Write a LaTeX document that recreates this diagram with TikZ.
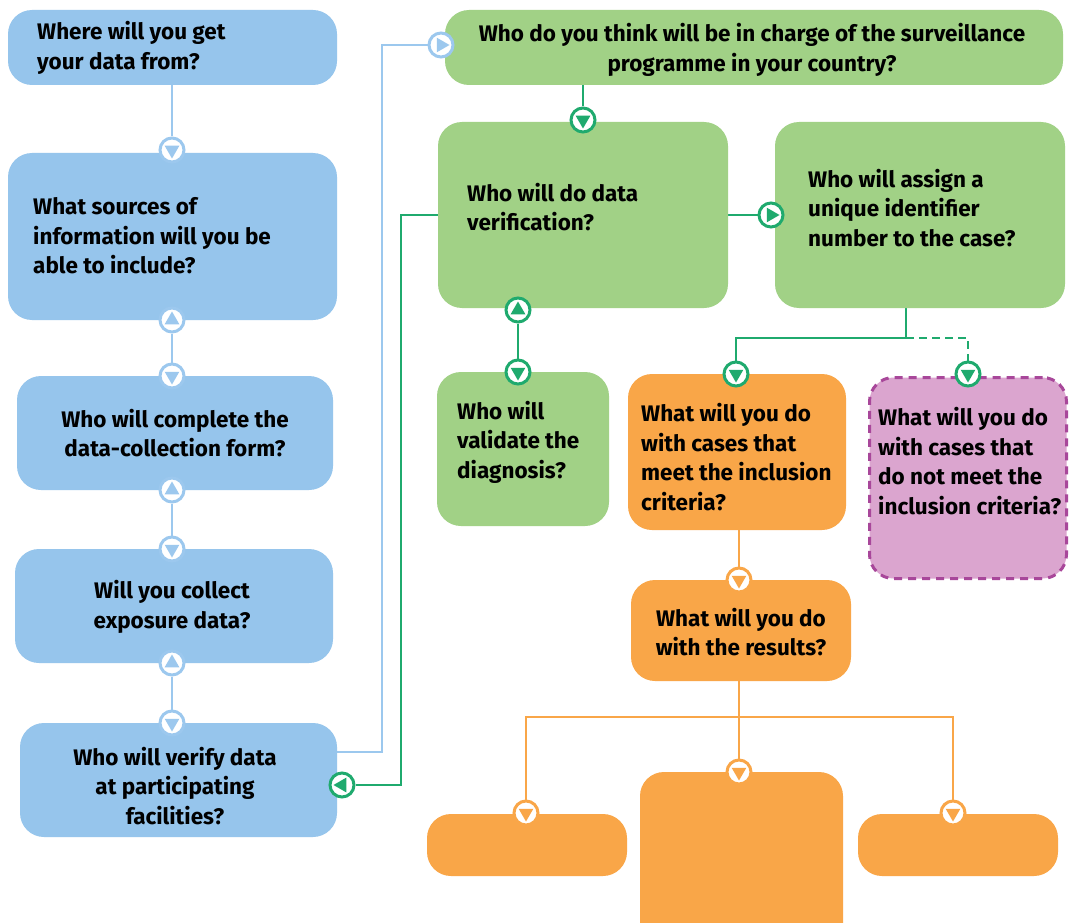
\documentclass[tikz,border=0pt]{standalone}
\usepackage{fontspec}
\setmainfont{Fira Sans}
\usetikzlibrary{shapes.geometric,calc}
\definecolor{bblue}{HTML}{96C5EC}
\definecolor{blin}{HTML}{9CC8EE}
\definecolor{bgreen}{HTML}{A1D186}
\definecolor{glin}{HTML}{1FAA6E}
\definecolor{borange}{HTML}{F9A648}
\definecolor{bpink}{HTML}{DBA5CF}
\definecolor{pline}{HTML}{A8479A}
\pgfdeclarelayer{bg}
\pgfsetlayers{bg,main}
\tikzset{
  bx/.style={rectangle, rounded corners=24pt, inner sep=0pt, draw=none},
  txt/.style={font=\bfseries\fontsize{22.5}{29.5}\selectfont, inner sep=0pt, text=black},
  mcirc/.style={circle, draw=#1, line width=3pt, fill=white, minimum size=24pt, inner sep=0pt},
  mtri/.style={regular polygon, regular polygon sides=3, fill=#1, minimum size=17pt, inner sep=0pt},
  bline/.style={draw=blin, line width=2.5pt},
  gline/.style={draw=glin, line width=2.5pt},
  oline/.style={draw=borange, line width=2.2pt},
}
\newcommand\mk[4]{\node[mcirc=#4] (#1) at (#2) {};\node[mtri=#4, rotate=#3] (#1t) at (#1) {};}
\begin{document}
\begin{tikzpicture}[x=1pt,y=-1pt]
\clip (0,0) rectangle (1071,923);
% boxes
\node[bx, fill=bblue, minimum width=329pt, minimum height=75pt] (b1) at (172.5,47.5) {};
\node[bx, fill=bblue, minimum width=329pt, minimum height=167pt] (b2) at (172.5,236.5) {};
\node[bx, fill=bblue, minimum width=316pt, minimum height=114pt] (b3) at (175,433) {};
\node[bx, fill=bblue, minimum width=318pt, minimum height=114pt] (b4) at (174,606) {};
\node[bx, fill=bblue, minimum width=317pt, minimum height=114pt] (b5) at (178.5,780) {};
\node[bx, fill=bgreen, minimum width=618pt, minimum height=75pt] (tg) at (754,47.5) {};
\node[bx, fill=bgreen, minimum width=290pt, minimum height=186pt] (g1) at (583,215) {};
\node[bx, fill=bgreen, minimum width=290pt, minimum height=186pt] (g2) at (920,215) {};
\node[bx, fill=bgreen, minimum width=172pt, minimum height=154pt] (g3) at (523,449) {};
\node[bx, fill=borange, minimum width=218pt, minimum height=156pt] (o1) at (737,452) {};
\node[bx, fill=bpink, draw=pline, line width=3pt, dash pattern=on 8pt off 6pt, minimum width=197pt, minimum height=201pt] (pk) at (968,478) {};
\node[bx, fill=borange, minimum width=220pt, minimum height=101pt] (o2) at (741,630.5) {};
\node[bx, fill=borange, minimum width=200pt, minimum height=62pt] (o3) at (527,845) {};
\node[bx, fill=borange, minimum width=203pt, minimum height=178pt] (o4) at (741.5,861) {};
\node[bx, fill=borange, minimum width=200pt, minimum height=62pt] (o5) at (958,845) {};
% texts
\node[txt, align=left, anchor=west] (t1) at (37,48) {Where will you get\\your data from?};
\node[txt, align=left, anchor=west] (t2) at (33,236) {What sources of\\information will you be\\able to include?};
\node[txt, align=center] (t3) at (175,433) {Who will complete the\\data-collection form?};
\node[txt, align=center] (t4) at (172,607) {Will you collect\\exposure data?};
\node[txt, align=center] (t5) at (175,786) {Who will verify data\\at participating\\facilities?};
\node[txt, align=center] (t6) at (752,50) {Who do you think will be in charge of the surveillance\\programme in your country?};
\node[txt, align=left, anchor=west] (t7) at (467,207) {Who will do data\\verification?};
\node[txt, align=left, anchor=west] (t8) at (808,208) {Who will assign a\\unique identifier\\number to the case?};
\node[txt, align=left, anchor=west] (t9) at (457,442) {Who will\\validate the\\diagnosis?};
\node[txt, align=left, anchor=west] (t10) at (641,457) {What will you do\\with cases that\\meet the inclusion\\criteria?};
\node[txt, align=left, anchor=west] (t11) at (878,461) {What will you do\\with cases that\\do not meet the\\inclusion criteria?};
\node[txt, align=center] (t12) at (741,632) {What will you do\\with the results?};
% markers
\mk{c1}{172,150}{180}{blin}
\mk{c2}{172,320}{0}{blin}
\mk{c3}{172,376}{180}{blin}
\mk{c4}{172,490}{0}{blin}
\mk{c5}{172,549}{180}{blin}
\mk{c6}{172,663}{0}{blin}
\mk{c7}{172,723}{180}{blin}
\mk{c8}{441,45}{-90}{blin}
\mk{c9}{583,120}{180}{glin}
\mk{c10}{771,215}{-90}{glin}
\mk{c11}{342,785}{90}{glin}
\mk{c12}{518,310}{0}{glin}
\mk{c13}{518,372}{180}{glin}
\mk{c14}{736,374}{180}{glin}
\mk{c15}{968,374}{180}{glin}
\mk{c16}{739,580}{180}{borange}
\mk{c17}{526,813}{180}{borange}
\mk{c18}{739,772}{180}{borange}
\mk{c19}{953,813}{180}{borange}
% connectors
\coordinate (bj) at (382,752);
\coordinate (gj) at (401,215);
\coordinate (gk) at (906,338);
\coordinate (ok) at (739,717);
\begin{pgfonlayer}{bg}
\fill[white] (0,0) rectangle (1071,923);
\draw[bline] (b1.south -| c1) -- (c1);
\draw[bline] (c2) -- (c3);
\draw[bline] (c4) -- (c5);
\draw[bline] (c6) -- (c7);
\draw[bline] (b5.east |- bj) -- (bj) |- (c8);
\draw[gline] (tg.south -| c9) -- (c9);
\draw[gline] (g1) -- (c10);
\draw[gline] (g1.west) -- (gj) |- (c11);
\draw[gline] (c12) -- (c13);
\draw[gline] (g2.south -| gk) -- (gk) -| (c14);
\draw[gline, dash pattern=on 8pt off 5pt] (gk) -| (c15);
\draw[oline] (o1.south -| c16) -- (c16);
\draw[oline] (o2.south -| ok) -- (ok);
\draw[oline] (ok) -| (c17);
\draw[oline] (ok) -| (c19);
\draw[oline] (ok) -- (c18);
\end{pgfonlayer}
\end{tikzpicture}
\end{document}
